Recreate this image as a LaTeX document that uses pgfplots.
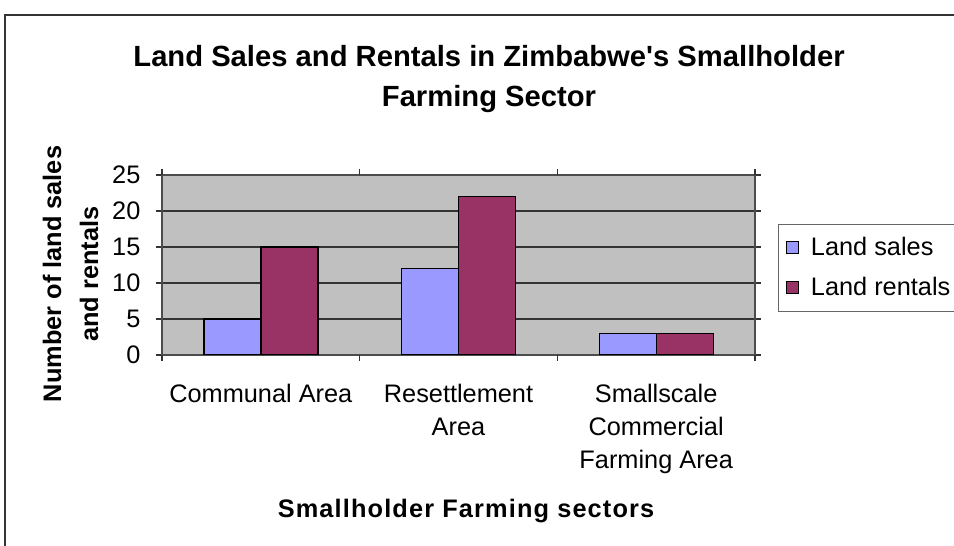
\documentclass[border=0pt]{standalone}
\usepackage{pgfplots}
\pgfplotsset{compat=1.18}
\usepackage{fontspec}
\setmainfont{Liberation Sans}
\definecolor{sales}{HTML}{9999FF}
\definecolor{rentals}{HTML}{993366}
\definecolor{plotbg}{HTML}{C0C0C0}
\begin{document}
\begin{tikzpicture}[x=0.75pt,y=0.75pt]
\useasboundingbox (0,0) rectangle (954,546);
\draw[black!80, line width=1pt] (5,531) rectangle (975,-24);
\node[font=\fontsize{21.9}{30}\selectfont\bfseries, anchor=base, inner sep=0pt] at (489,479) {Land Sales and Rentals in Zimbabwe\textquotesingle s Smallholder};
\node[font=\fontsize{21.9}{30}\selectfont\bfseries, anchor=base, inner sep=0pt] at (489,439) {Farming Sector};
\node[font=\fontsize{19}{26}\selectfont\bfseries\addfontfeature{LetterSpace=4.5}, anchor=base, inner sep=0pt] at (466,28) {Smallholder Farming sectors};
\node[font=\fontsize{19}{26}\selectfont\bfseries, anchor=base, inner sep=0pt, rotate=90] at (61,272) {Number of land sales};
\node[font=\fontsize{19}{26}\selectfont\bfseries, anchor=base, inner sep=0pt, rotate=90] at (98,272) {and rentals};
\begin{axis}[
  at={(121.5pt,143.25pt)}, anchor=south west,
  scale only axis, width=444.75pt, height=135pt,
  xmin=-0.5, xmax=2.5, ymin=0, ymax=25,
  ytick={0,5,10,15,20,25},
  xtick={0,1,2},
  xticklabels={Communal Area, Resettlement\\Area, Smallscale\\Commercial\\Farming Area},
  extra x ticks={-0.5,0.5,1.5,2.5},
  extra x tick labels={},
  extra x tick style={xtick style={draw=black!80, line width=0.8pt}, major tick length=4.5pt},
  xtick style={draw=none},
  ytick style={draw=black!80, line width=0.8pt},
  major tick length=4.5pt,
  tick align=outside,
  ymajorgrids,
  grid style={black!80, line width=0.9pt},
  axis background/.style={fill=plotbg},
  axis line style={black!70, line width=0.9pt},
  ybar=0pt, bar width=42.75pt,
  /pgf/number format/assume math mode=true,
  tick label style={font=\fontsize{19}{24.75}\selectfont},
  xticklabel style={align=center, anchor=north, inner sep=0pt, yshift=-17pt},
  yticklabel style={anchor=east, inner sep=0pt, xshift=-11.5pt},
  legend style={at={(axis description cs:1.0388,0.7278)}, anchor=north west,
    draw=black!60, fill=white, font=\fontsize{19}{23}\selectfont,
    inner xsep=6pt, inner ysep=8pt, row sep=10.5pt},
  legend cell align=left,
]
\addplot[fill=sales, draw=black, line width=1pt,
  legend image code/.code={\path[draw=none,fill=none] (0pt,0pt) -- (16.5pt,0pt); \draw[fill=sales, draw=black, line width=0.8pt] (0.5pt,-4.5pt) rectangle (9.5pt,4.5pt);}]
  coordinates {(0,5) (1,12) (2,3)};
\addplot[fill=rentals, draw=black, line width=1pt,
  legend image code/.code={\path[draw=none,fill=none] (0pt,0pt) -- (16.5pt,0pt); \draw[fill=rentals, draw=black, line width=0.8pt] (0.5pt,-4.5pt) rectangle (9.5pt,4.5pt);}]
  coordinates {(0,15) (1,22) (2,3)};
\legend{Land sales, Land rentals}
\end{axis}
\end{tikzpicture}
\end{document}
